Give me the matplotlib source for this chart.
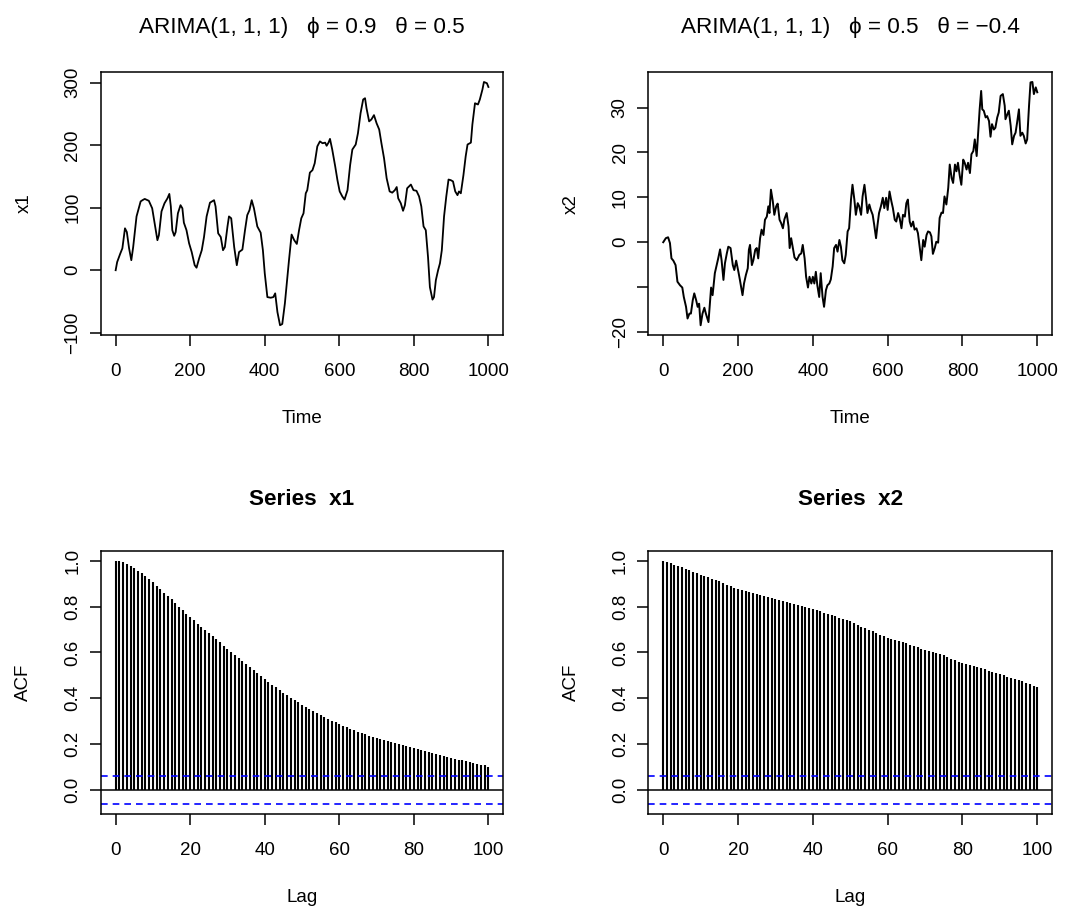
import numpy as np
import matplotlib
matplotlib.use("Agg")
import matplotlib.pyplot as plt

plt.rcParams['font.family'] = ['Liberation Sans', 'DejaVu Sans']

# --- data ------------------------------------------------------------------
x1_time = [0, 4, 12, 18, 25, 30, 36, 42, 47, 56, 67, 72, 78, 89, 98, 106, 112, 116,
           123, 131, 139, 144, 148, 152, 157, 161, 167, 174, 179, 183, 190, 197, 204,
           212, 217, 224, 231, 237, 244, 253, 264, 268, 275, 282, 288, 293, 300, 304,
           310, 318, 325, 331, 340, 347, 353, 359, 365, 371, 380, 389, 395, 400, 407,
           416, 423, 428, 434, 441, 447, 454, 459, 465, 472, 479, 486, 492, 498, 504,
           510, 514, 521, 528, 534, 541, 548, 555, 562, 566, 571, 575, 581, 589, 595,
           601, 608, 614, 622, 629, 635, 644, 650, 657, 664, 669, 673, 680, 686, 693,
           700, 707, 713, 720, 727, 735, 742, 749, 754, 758, 765, 771, 776, 782, 792,
           799, 807, 814, 820, 826, 832, 838, 843, 850, 854, 859, 865, 870, 875, 881,
           887, 893, 899, 905, 911, 917, 921, 926, 933, 939, 944, 953, 957, 964, 972,
           977, 984, 988, 996, 1000]
x1_value = [0, 13, 26, 35, 67, 61, 35, 16, 37, 86, 110, 112, 114, 111, 99, 70, 48, 56,
            94, 107, 115, 122, 102, 64, 55, 61, 91, 104, 99, 76, 64, 43, 29,
            8, 4, 19, 32, 53, 86, 108, 112, 102, 59, 53, 32, 37, 70, 86,
            83, 37, 8, 29, 33, 64, 88, 96, 112, 99, 70, 60, 32, -5, -43,
            -44, -43, -37, -67, -88, -86, -53, -21, 16, 57, 48, 42, 64, 83, 91,
            123, 128, 156, 160, 171, 198, 206, 203, 204, 199, 204, 210, 193, 166, 144,
            126, 118, 113, 128, 168, 193, 201, 219, 251, 273, 275, 259, 238, 241, 248,
            235, 225, 203, 179, 147, 126, 124, 128, 133, 115, 107, 95, 104, 131, 137,
            128, 127, 118, 102, 70, 64, 21, -27, -47, -43, -16, 0, 11, 32, 86,
            118, 145, 144, 142, 126, 120, 126, 123, 152, 182, 201, 204, 233, 267, 265,
            273, 289, 301, 299, 293]

x2_time = [0, 7, 13, 18, 22, 27, 33, 38, 45, 51, 55, 61, 65, 70, 74, 79, 83, 88, 92,
           96, 100, 105, 110, 114, 121, 125, 128, 132, 138, 143, 147, 152, 156, 161,
           165, 170, 174, 180, 186, 190, 195, 201, 205, 212, 216, 221, 226, 229, 232,
           237, 241, 246, 250, 254, 259, 263, 268, 272, 277, 281, 284, 288, 293, 297,
           302, 306, 311, 315, 320, 324, 330, 335, 338, 342, 346, 351, 357, 364, 369,
           373, 378, 382, 387, 391, 396, 400, 404, 408, 412, 417, 421, 426, 430, 435,
           439, 444, 448, 453, 457, 462, 466, 471, 475, 479, 484, 488, 493, 497, 502,
           506, 511, 515, 520, 524, 529, 533, 538, 542, 546, 551, 555, 560, 564, 569,
           573, 577, 582, 587, 591, 596, 600, 605, 610, 614, 619, 623, 628, 632, 637,
           641, 646, 650, 654, 659, 663, 668, 672, 677, 681, 686, 690, 695, 699, 704,
           708, 713, 717, 721, 726, 730, 735, 739, 744, 748, 752, 757, 762, 766, 771,
           775, 780, 784, 788, 793, 797, 802, 806, 811, 815, 820, 824, 829, 833, 838,
           842, 846, 850, 853, 857, 862, 866, 871, 875, 879, 884, 888, 893, 897, 902,
           908, 913, 915, 920, 924, 929, 933, 938, 942, 946, 951, 955, 960, 964, 969,
           973, 978, 982, 987, 991, 996, 1000]
x2_value = [0, 0.9, 1.1, -0.2, -3.6, -4.1, -5.1, -8.8, -9.6, -10.1, -12.2, -14.4, -17.0,
            -15.9, -15.9, -12.9, -11.4, -12.9, -14.4, -13.7, -18.5, -15.9, -14.6, -15.9,
            -17.8, -13.3, -10.1, -11.8, -6.9, -5.1, -3.6, -1.6, -4.0, -8.4, -4.7, -2.5,
            -1.0, -1.3, -5.1, -6.2, -4.1, -6.6, -8.4, -11.8, -9.2, -7.3, -5.8, -1.7, -0.6,
            -5.1, -4.0, -1.7, -1.3, -3.6, 0.9, 2.8, 1.6, 5.0, 5.7, 8.0, 6.5, 11.7, 9.1, 6.1,
            8.0, 8.6, 5.0, 4.3, 3.1, 5.1, 6.5, 3.5, -1.3, 0.9, -1.0, -3.4, -4.0, -2.8, -2.5,
            -0.6, -3.6, -7.7, -10.1, -7.7, -9.2, -7.7, -9.2, -6.6, -9.6, -12.2, -6.9, -12.2,
            -14.4, -10.7, -9.6, -9.2, -8.3, -5.4, -1.3, -0.6, -2.1, 0.5, -1.0, -4.0, -4.7,
            -2.8, 2.4, 3.1, 9.5, 12.8, 9.5, 6.1, 8.7, 8.0, 6.1, 10.2, 12.8, 9.9, 6.5, 8.4,
            7.2, 6.1, 3.9, 0.9, 3.9, 6.5, 8.0, 9.9, 7.6, 9.9, 7.2, 11.3, 9.1, 7.6, 5.0, 4.6,
            6.5, 5.4, 3.1, 6.1, 5.7, 8.7, 9.5, 4.6, 3.5, 4.6, 2.8, 3.1, 2.0, -1.3, -4.0, 0.5,
            -1.0, 1.6, 2.4, 2.2, 1.3, -2.6, -1.3, 0.1, -0.1, 5.4, 6.6, 6.5, 10.2, 8.4, 12.1,
            17.3, 14.3, 13.2, 17.3, 15.8, 17.7, 14.7, 12.8, 18.4, 17.7, 16.2, 17.7, 15.4,
            19.6, 20.3, 22.9, 19.2, 24.4, 29.6, 33.7, 29.6, 29.3, 27.8, 28.1, 27.0, 23.5,
            26.3, 25.1, 25.5, 27.8, 28.9, 32.6, 33.0, 30.4, 27.4, 28.5, 29.3, 25.9, 21.8,
            23.7, 24.4, 26.6, 29.6, 23.7, 24.4, 23.7, 22.0, 22.9, 30.4, 35.6, 35.7, 33.0,
            34.5, 33.4]

lags = list(range(101))
acf_x1 = [1.000, 0.998, 0.993, 0.986, 0.977, 0.967, 0.956, 0.945, 0.932, 0.919,
          0.906, 0.890, 0.877, 0.861, 0.847, 0.832, 0.816, 0.800, 0.785, 0.769,
          0.755, 0.740, 0.726, 0.711, 0.698, 0.684, 0.671, 0.657, 0.644, 0.630,
          0.617, 0.604, 0.589, 0.576, 0.563, 0.550, 0.537, 0.524, 0.511, 0.497,
          0.484, 0.471, 0.460, 0.448, 0.436, 0.425, 0.413, 0.403, 0.393, 0.383,
          0.372, 0.362, 0.353, 0.345, 0.336, 0.327, 0.319, 0.310, 0.303, 0.295,
          0.288, 0.281, 0.273, 0.268, 0.260, 0.255, 0.249, 0.243, 0.237, 0.231,
          0.225, 0.221, 0.217, 0.212, 0.208, 0.204, 0.199, 0.195, 0.191, 0.186,
          0.182, 0.177, 0.173, 0.169, 0.164, 0.160, 0.156, 0.151, 0.148, 0.144,
          0.140, 0.137, 0.132, 0.129, 0.125, 0.122, 0.118, 0.115, 0.111, 0.108,
          0.102]
acf_x2 = [1.000, 0.995, 0.989, 0.983, 0.978, 0.972, 0.966, 0.959, 0.952, 0.946,
          0.939, 0.933, 0.927, 0.921, 0.915, 0.910, 0.903, 0.896, 0.889, 0.882,
          0.876, 0.871, 0.867, 0.862, 0.858, 0.854, 0.850, 0.846, 0.842, 0.837,
          0.833, 0.829, 0.824, 0.820, 0.815, 0.811, 0.807, 0.802, 0.798, 0.793,
          0.789, 0.784, 0.779, 0.774, 0.769, 0.764, 0.758, 0.752, 0.747, 0.741,
          0.735, 0.727, 0.718, 0.712, 0.705, 0.699, 0.692, 0.685, 0.678, 0.671,
          0.665, 0.660, 0.655, 0.650, 0.645, 0.640, 0.634, 0.628, 0.622, 0.617,
          0.611, 0.606, 0.601, 0.597, 0.592, 0.587, 0.580, 0.573, 0.566, 0.560,
          0.553, 0.549, 0.544, 0.540, 0.535, 0.531, 0.526, 0.520, 0.515, 0.510,
          0.505, 0.500, 0.495, 0.490, 0.485, 0.480, 0.474, 0.468, 0.461, 0.455,
          0.448]
acf_ci = 0.062

titles_top = ["ARIMA(1, 1, 1)   \u03d5 = 0.9   \u03b8 = 0.5",
              "ARIMA(1, 1, 1)   \u03d5 = 0.5   \u03b8 = \u22120.4"]

FS = 13.5
TFS = 16.2

fig = plt.figure(figsize=(10.65, 9.11), dpi=100)

ax_tl = fig.add_axes([0.0946, 0.6323, 0.3780, 0.2884])
ax_tr = fig.add_axes([0.6087, 0.6323, 0.3793, 0.2884])
ax_bl = fig.add_axes([0.0946, 0.1065, 0.3780, 0.2887])
ax_br = fig.add_axes([0.6087, 0.1065, 0.3793, 0.2887])


def r_style(ax):
    for s in ax.spines.values():
        s.set_linewidth(1.1)
    ax.tick_params(direction='out', length=8, width=1.1, labelsize=FS,
                   top=False, right=False)
    ax.tick_params(axis='x', pad=12)
    ax.tick_params(axis='y', pad=6, labelrotation=90)
    plt.setp(ax.get_yticklabels(), va='center')


# time series panels
ax_tl.plot(x1_time, x1_value, color='black', lw=1.3)
ax_tl.margins(x=0.04, y=0.04)
ax_tl.set_xticks([0, 200, 400, 600, 800, 1000])
ax_tl.set_yticks([-100, 0, 100, 200, 300])
ax_tl.set_xlabel("Time", fontsize=FS, labelpad=22)
ax_tl.set_ylabel("x1", fontsize=FS, labelpad=23)
ax_tl.set_title(titles_top[0], fontsize=TFS, pad=28)
r_style(ax_tl)

ax_tr.plot(x2_time, x2_value, color='black', lw=1.4)
ax_tr.margins(x=0.04, y=0.04)
ax_tr.set_xticks([0, 200, 400, 600, 800, 1000])
ax_tr.set_yticks([-20, -10, 0, 10, 20, 30])
ax_tr.set_yticklabels(["\u221220", "", "0", "10", "20", "30"])
ax_tr.set_xlabel("Time", fontsize=FS, labelpad=22)
ax_tr.set_ylabel("x2", fontsize=FS, labelpad=23)
ax_tr.set_title(titles_top[1], fontsize=TFS, pad=28)
r_style(ax_tr)

# ACF panels
for ax, acf, name in [(ax_bl, acf_x1, "x1"), (ax_br, acf_x2, "x2")]:
    ax.vlines(lags, 0, acf, color='black', lw=1.5)
    ax.axhline(0, color='black', lw=1.1)
    ax.axhline(acf_ci, color='#0000ff', lw=1.2, ls=(0, (4, 3)))
    ax.axhline(-acf_ci, color='#0000ff', lw=1.2, ls=(0, (4, 3)))
    lo, hi = -acf_ci, max(acf)
    pad = 0.04 * (hi - lo)
    ax.set_ylim(lo - pad, hi + pad)
    ax.set_xlim(-4, 104)
    ax.set_xticks([0, 20, 40, 60, 80, 100])
    ax.set_yticks([0.0, 0.2, 0.4, 0.6, 0.8, 1.0])
    ax.set_yticklabels(["0.0", "0.2", "0.4", "0.6", "0.8", "1.0"])
    ax.set_xlabel("Lag", fontsize=FS, labelpad=22)
    ax.set_ylabel("ACF", fontsize=FS, labelpad=23)
    ax.set_title("Series  " + name, fontsize=TFS, fontweight='bold', pad=33)
    r_style(ax)

fig.savefig('out.png', dpi=100)
